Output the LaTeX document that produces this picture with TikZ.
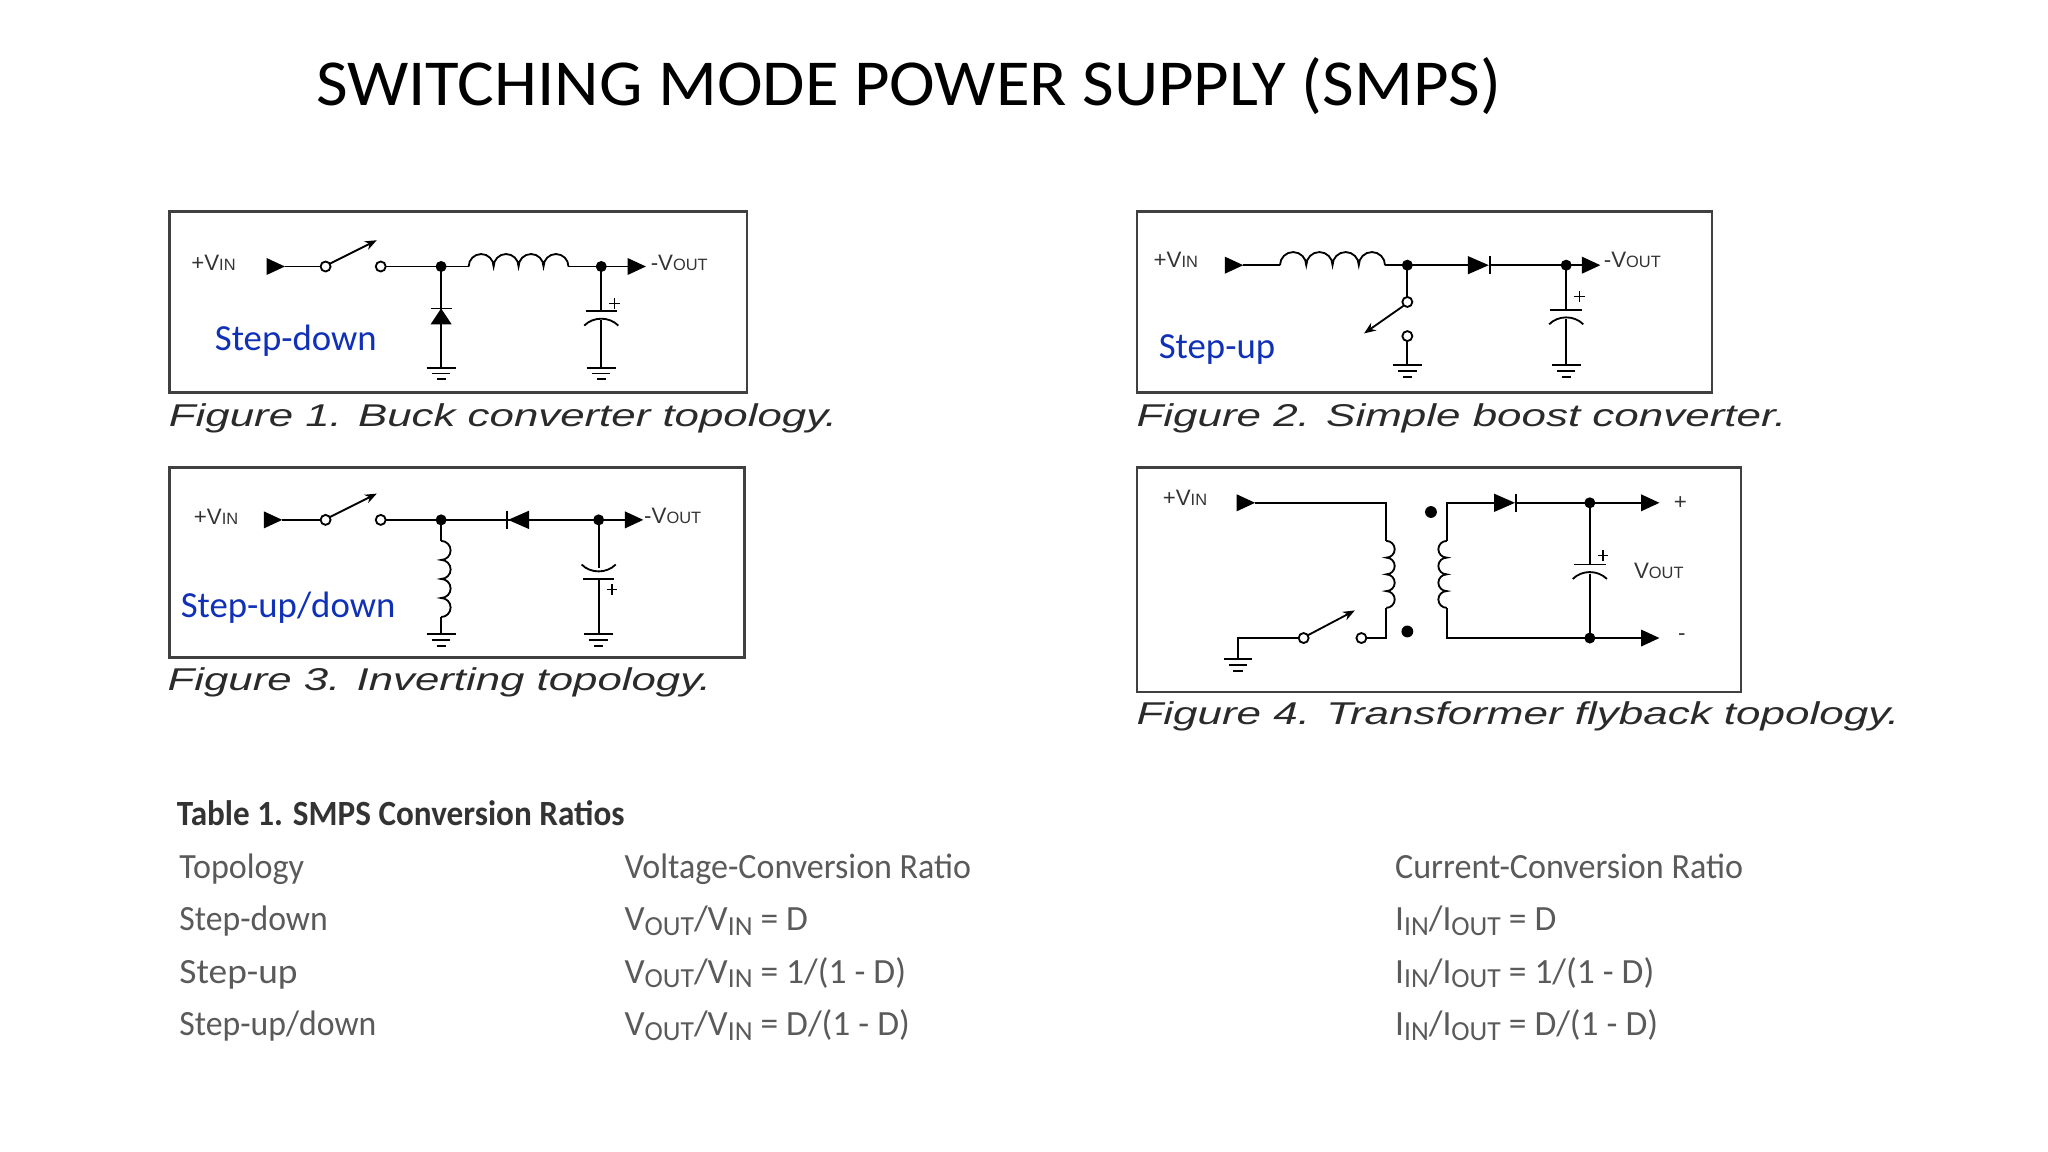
\documentclass[tikz,border=0pt]{standalone}
\usepackage{fontspec}
\setmainfont{Carlito}
\newfontfamily\arialf{Liberation Sans}
\usetikzlibrary{arrows.meta}
\definecolor{stepblue}{HTML}{1030B8}
\definecolor{tabgray}{HTML}{5A5A5A}
\definecolor{capcol}{HTML}{2A2A2A}
\newcommand\wtri[2]{\fill (#1,#2-6.5) -- (#1,#2+6.5) -- (#1+14,#2) -- cycle;}
\newcommand\wdot[2]{\fill (#1,#2) circle (4.2);}
\newcommand\ocirc[2]{\draw[fill=white] (#1,#2) circle (3.8);}
\newcommand\gnd[2]{\draw (#1-11,#2) -- (#1+11,#2) (#1-7,#2+4.5) -- (#1+7,#2+4.5) (#1-3.5,#2+9) -- (#1+3.5,#2+9);}
\newcommand\indh[3]{\draw (#1,#3) \foreach \i in {1,...,4}{ arc[start angle=180,end angle=360,radius={(#2-#1)/8}]};}
\newcommand\indvr[3]{\draw (#1,#2) \foreach \i in {1,...,4}{ arc[start angle=-90,end angle=90,radius={(#3-#2)/8}]};}
\newcommand\indvl[3]{\draw (#1,#2) \foreach \i in {1,...,4}{ arc[start angle=-90,end angle=-270,radius={(#3-#2)/8}]};}
\newcommand\vinlab{{\arialf\fontsize{17}{17}\selectfont +V\fontsize{12.5}{12.5}\selectfont IN}}
\newcommand\voutlab[1]{{\arialf\fontsize{17}{17}\selectfont #1V\fontsize{12.5}{12.5}\selectfont OUT}}
\newcommand\sbs[1]{\raisebox{-0.25ex}{\fontsize{21}{21}\selectfont #1}}
\begin{document}
\begin{tikzpicture}[x=1pt,y=-1pt,line width=1.4pt,
  box/.style={draw=black!75,line width=2pt},
  figcap/.style={anchor=base west,inner sep=0pt,text=capcol,font=\arialf\itshape\fontsize{24}{24}\selectfont},
  steplab/.style={anchor=base west,inner sep=0pt,text=stepblue,font=\fontsize{28}{28}\selectfont},
  lab/.style={inner sep=0pt,text=black!80},
  tab/.style={anchor=base west,inner sep=0pt,text=tabgray,font=\fontsize{27}{27}\selectfont}]
\useasboundingbox (0,0) rectangle (1560,877.5);
\node[anchor=base west,inner sep=0pt,font=\fontsize{50}{50}\selectfont] (title) at (240,80) {\resizebox{903pt}{\height}{SWITCHING MODE POWER SUPPLY (SMPS)}};

% ---------- Figure 1
\draw[box] (129,161) rectangle (569,299);
\node[lab,anchor=west] (v1) at (145,200) {\vinlab};
\wtri{203}{203}
\draw (217,203) -- (244.5,203);
\ocirc{248}{203}
\draw[-{Stealth[length=9pt,width=7pt]}] (251,201) -- (287,183);
\ocirc{290}{203}
\draw (293.8,203) -- (357,203);
\indh{357}{433}{203}
\draw (433,203) -- (478,203);
\wtri{478}{203}
\wdot{336}{203}\wdot{458}{203}
\node[lab,anchor=west] (o1) at (495,200) {\voutlab{-}};
\draw (336,203) -- (336,280);
\fill (336,235) -- (328,247) -- (344,247) -- cycle;
\draw (328,235) -- (344,235);
\gnd{336}{280}
\draw (458,203) -- (458,237) (458,244) -- (458,280);
\draw (446,237) -- (470,237);
\draw (445,248) .. controls (452,241) and (464,241) .. (471,248);
\draw[line width=1.1pt] (464,231) -- (472,231) (468,227) -- (468,235);
\gnd{458}{280}
\node[steplab] (s1) at (163,267) {Step-down};
\node[figcap] (c1) at (128,325) {\resizebox{509pt}{\height}{Figure 1. Buck converter topology.}};

% ---------- Figure 2
\draw[box] (866,161) rectangle (1304,299);
\node[lab,anchor=west] (v2) at (878,198) {\vinlab};
\wtri{933}{202}
\draw (947,202) -- (975,202);
\indh{975}{1055}{202}
\draw (1055,202) -- (1118,202);
\fill (1118,195) -- (1118,209) -- (1134,202) -- cycle;
\draw (1135,195) -- (1135,209);
\draw (1135,202) -- (1205,202);
\wtri{1205}{202}
\wdot{1072}{202}\wdot{1193}{202}
\node[lab,anchor=west] (o2) at (1221,198) {\voutlab{-}};
\draw (1072,202) -- (1072,226.2);
\ocirc{1072}{230}
\draw[-{Stealth[length=9pt,width=7pt]}] (1069,233) -- (1039,254);
\ocirc{1072}{256}
\draw (1072,259.8) -- (1072,278);
\gnd{1072}{278}
\draw (1193,202) -- (1193,236) (1193,243) -- (1193,278);
\draw (1181,236) -- (1205,236);
\draw (1180,247) .. controls (1187,240) and (1199,240) .. (1206,247);
\draw[line width=1.1pt] (1199,226) -- (1207,226) (1203,222) -- (1203,230);
\gnd{1193}{278}
\node[steplab] (s2) at (882,273) {Step-up};
\node[figcap] (c2) at (865,325) {\resizebox{495pt}{\height}{Figure 2. Simple boost converter.}};

% ---------- Figure 3
\draw[box] (129,356) rectangle (567,501);
\node[lab,anchor=west] (v3) at (147,394) {\vinlab};
\wtri{201}{396}
\draw (215,396) -- (244.5,396);
\ocirc{248}{396}
\draw[-{Stealth[length=9pt,width=7pt]}] (251,394) -- (287,376);
\ocirc{290}{396}
\draw (293.8,396) -- (476,396);
\fill (403,389) -- (403,403) -- (387,396) -- cycle;
\draw (386,389) -- (386,403);
\wtri{476}{396}
\wdot{336}{396}\wdot{456}{396}
\node[lab,anchor=west] (o3) at (490,393) {\voutlab{-}};
\draw (336,396) -- (336,412);
\indvr{336}{412}{470}
\draw (336,470) -- (336,483);
\gnd{336}{483}
\draw (456,396) -- (456,433) (456,441) -- (456,483);
\draw (443,430) .. controls (450,437) and (462,437) .. (469,430);
\draw (444,441) -- (468,441);
\draw[line width=1.1pt] (462,449) -- (470,449) (466,445) -- (466,453);
\gnd{456}{483}
\node[steplab] (s3) at (137,470) {Step-up/down};
\node[figcap] (c3) at (127,526) {\resizebox{414pt}{\height}{Figure 3. Inverting topology.}};

% ---------- Figure 4
\draw[box] (866,356) rectangle (1326,527);
\node[lab,anchor=west] (v4) at (885,379) {\vinlab};
\wtri{942}{383}
\draw (956,383) -- (1056,383) -- (1056,412);
\indvr{1056}{412}{463}
\draw (1056,463) -- (1056,486) -- (1041,486);
\ocirc{1037}{486}
\ocirc{993}{486}
\draw[-{Stealth[length=9pt,width=7pt]}] (996,484) -- (1032,465);
\draw (989.2,486) -- (943,486) -- (943,502);
\gnd{943}{502}
\fill (1090,390) circle (4.5);
\fill (1072,481) circle (4.5);
\draw (1102,412) -- (1102,383) -- (1138,383);
\indvl{1102}{412}{463}
\draw (1102,463) -- (1102,486) -- (1250,486);
\fill (1138,376) -- (1138,390) -- (1154,383) -- cycle;
\draw (1155,376) -- (1155,390);
\draw (1155,383) -- (1250,383);
\wtri{1250}{383}\wtri{1250}{486}
\wdot{1211}{383}\wdot{1211}{486}
\draw (1211,383) -- (1211,430) (1211,437) -- (1211,486);
\draw (1199,430) -- (1223,430);
\draw (1198,441) .. controls (1205,434) and (1217,434) .. (1224,441);
\draw[line width=1.1pt] (1217,423) -- (1225,423) (1221,419) -- (1221,427);
\node[lab,font=\arialf\fontsize{17}{17}\selectfont] (pl) at (1280,383) {+};
\node[lab,font=\arialf\fontsize{17}{17}\selectfont] (mi) at (1281,485) {-};
\node[lab,anchor=west] (o4) at (1244,435) {\voutlab{}};
\node[figcap] (c4) at (865,552) {\resizebox{581pt}{\height}{Figure 4. Transformer flyback topology.}};

% ---------- Table
\node[tab,text=black!80,font=\bfseries\fontsize{27}{27}\selectfont] (th) at (134,629) {\resizebox{341pt}{\height}{Table 1. SMPS Conversion Ratios}};
\node[tab] (r0a) at (136,669) {\resizebox{95pt}{\height}{Topology}};
\node[tab] (r0b) at (475,669) {\resizebox{264pt}{\height}{Voltage-Conversion Ratio}};
\node[tab] (r0c) at (1062,669) {\resizebox{265pt}{\height}{Current-Conversion Ratio}};
\node[tab] (r1a) at (136,709) {\resizebox{113pt}{\height}{Step-down}};
\node[tab] (r1b) at (475,709) {V\sbs{OUT}/V\sbs{IN} = D};
\node[tab] (r1c) at (1062,709) {I\sbs{IN}/I\sbs{OUT} = D};
\node[tab] (r2a) at (136,749) {\resizebox{90pt}{\height}{Step-up}};
\node[tab] (r2b) at (475,749) {V\sbs{OUT}/V\sbs{IN} = 1/(1 - D)};
\node[tab] (r2c) at (1062,749) {I\sbs{IN}/I\sbs{OUT} = 1/(1 - D)};
\node[tab] (r3a) at (136,789) {\resizebox{150pt}{\height}{Step-up/down}};
\node[tab] (r3b) at (475,789) {V\sbs{OUT}/V\sbs{IN} = D/(1 - D)};
\node[tab] (r3c) at (1062,789) {I\sbs{IN}/I\sbs{OUT} = D/(1 - D)};
\end{tikzpicture}
\end{document}
